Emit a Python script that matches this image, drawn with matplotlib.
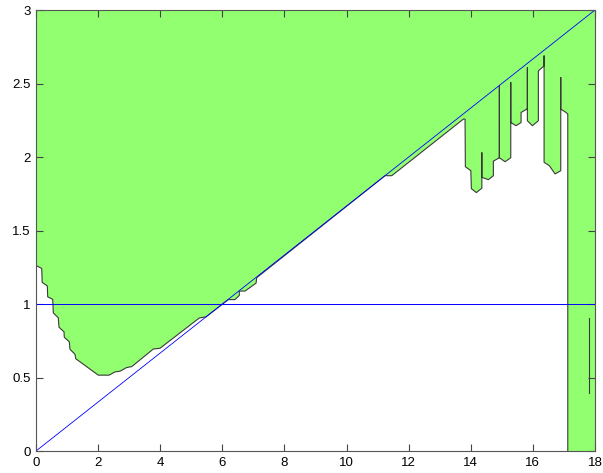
import matplotlib
matplotlib.use('Agg')
import matplotlib.pyplot as plt
from matplotlib.ticker import FormatStrFormatter, FuncFormatter

# lower edge of the filled region, left to right
edge_x = [0.0, 0.184, 0.200, 0.364, 0.377, 0.538, 0.557, 0.718, 0.741, 0.902,
          0.911, 1.072, 1.095, 1.256, 1.279, 2.006, 2.351, 2.544, 2.705, 2.921,
          3.082, 3.778, 3.994, 5.259, 5.443, 5.47, 6.193, 6.409, 6.548, 6.548,
          6.731, 7.086, 7.108, 11.24, 11.456, 13.762,
          13.816, 13.826, 14.003, 14.019, 14.180, 14.357, 14.357, 14.357,
          14.567, 14.728, 14.728, 14.921, 14.921, 14.921,
          15.105, 15.288, 15.288, 15.288, 15.459, 15.620, 15.620, 15.803,
          15.823, 15.823, 15.823, 15.984, 16.177, 16.177, 16.361, 16.361, 16.361,
          16.531, 16.715, 16.898, 16.898, 16.898, 16.898, 17.069, 17.124, 17.124]
edge_y = [1.2625, 1.242, 1.147, 1.123, 1.049, 1.032, 0.940, 0.906, 0.842, 0.811,
          0.774, 0.743, 0.692, 0.658, 0.628, 0.516, 0.516, 0.538, 0.543, 0.568,
          0.574, 0.694, 0.699, 0.905, 0.912, 0.912, 1.030, 1.030, 1.059, 1.088,
          1.088, 1.142, 1.179, 1.873, 1.873, 2.258,
          2.258, 1.934, 1.907, 1.785, 1.758, 1.788, 2.029, 1.862,
          1.846, 1.873, 1.972, 1.995, 2.484, 1.995,
          1.968, 1.995, 2.507, 2.235, 2.213, 2.235, 2.303, 2.326,
          2.326, 2.608, 2.247, 2.213, 2.247, 2.586, 2.620, 2.688, 1.964,
          1.941, 1.885, 1.907, 2.326, 2.541, 2.326, 2.303, 2.292, 0.0]

# small isolated contour piece inside the right strip
iso_x = [17.82, 17.82]
iso_y = [0.392, 0.908]

xmin, xmax = 0, 18
ymin, ymax = 0, 3
level = 1

fig = plt.figure(figsize=(6.03, 4.73), dpi=100)
ax = fig.add_axes([0.0597, 0.0465, 0.927, 0.9323])

# green region above the edge
poly_x = edge_x + [xmax, xmax, xmin]
poly_y = edge_y + [ymin, ymax, ymax]
ax.fill(poly_x, poly_y, color='#92ff70', linewidth=0, zorder=1)
ax.plot(edge_x, edge_y, color='#3a3a3a', linewidth=0.8, zorder=2)
ax.plot(iso_x, iso_y, color='#3a3a3a', linewidth=0.8, zorder=2)

# reference lines
ax.plot([xmin, xmax], [ymin, ymax], color='#0000ff', linewidth=0.6, zorder=3)
ax.axhline(level, color='#0000ff', linewidth=0.7, zorder=3)

ax.set_xlim(xmin, xmax)
ax.set_ylim(ymin, ymax)
ax.set_xticks(range(0, 19, 2))
ax.set_yticks([0, 0.5, 1, 1.5, 2, 2.5, 3])
ax.yaxis.set_major_formatter(FuncFormatter(lambda v, p: '%g' % v))
ax.tick_params(direction='in', length=5, width=0.8, color='#444444',
               top=True, right=True, labelsize=9.5, pad=4)
for lab in ax.get_xticklabels() + ax.get_yticklabels():
    lab.set_family('Liberation Sans')
for s in ax.spines.values():
    s.set_color('#555555')
    s.set_linewidth(0.8)
    s.set_zorder(4)

fig.savefig('out.png', dpi=100)
